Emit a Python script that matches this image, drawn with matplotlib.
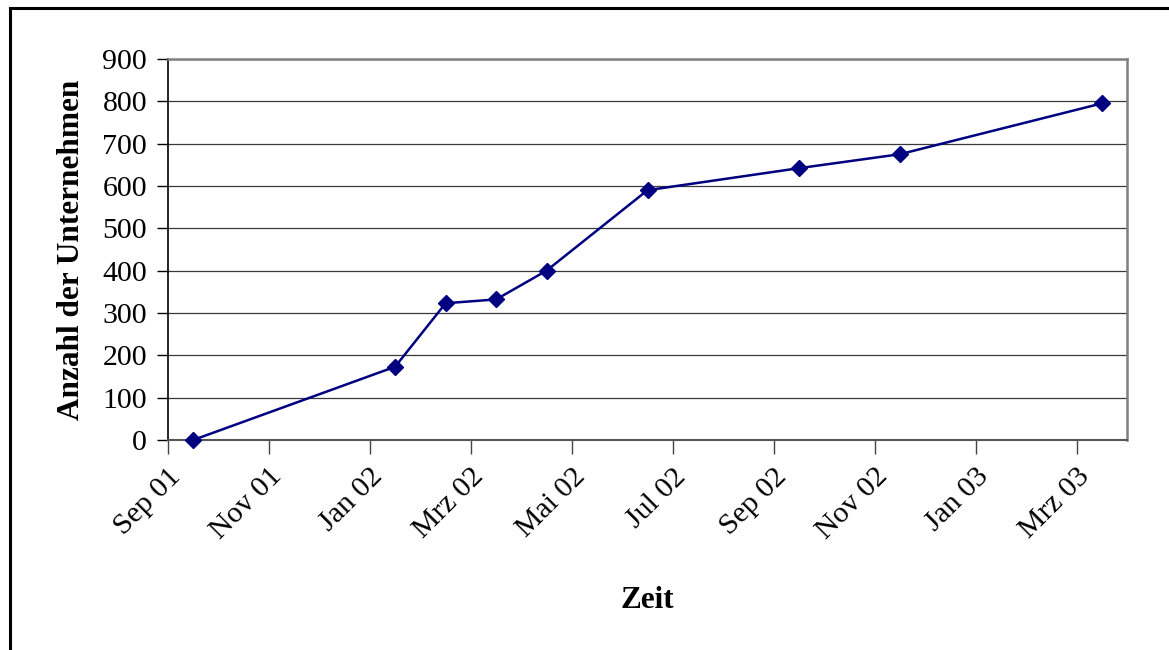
import numpy as np
import matplotlib.pyplot as plt
from matplotlib.patches import Rectangle

# data: month of observation (year, month) and number of companies
months = [(2001, 9), (2002, 1), (2002, 2), (2002, 3), (2002, 4),
          (2002, 6), (2002, 9), (2002, 11), (2003, 3)]
companies = [0, 173, 323, 332, 400, 590, 642, 675, 795]

tick_labels = ['Sep 01', 'Nov 01', 'Jan 02', 'Mrz 02', 'Mai 02',
               'Jul 02', 'Sep 02', 'Nov 02', 'Jan 03', 'Mrz 03']

plt.rcParams['font.family'] = ['Liberation Serif', 'DejaVu Serif']

# month index counted from Sep 2001, points sit in the middle of their month
start_year, start_month = 2001, 9
x = np.array([(y - start_year) * 12 + (m - start_month) for y, m in months]) + 0.5

fig = plt.figure(figsize=(11.69, 6.5), dpi=100)
ax = fig.add_axes([0.1437, 0.3231, 0.8204, 0.5862])

# outer frame (only left and top edge visible in the picture)
fig.patches.append(Rectangle((10 / 1169, -0.1), 1.2, 1.1 - 8 / 650, transform=fig.transFigure,
                             fill=False, edgecolor='black', linewidth=2.2, zorder=0))

for yv in range(100, 901, 100):
    ax.axhline(yv, color='#3a3a3a', linewidth=0.9, zorder=1)

ax.plot(x, companies, color='#000080', linewidth=1.8, marker='D', markersize=8,
        markerfacecolor='#000080', markeredgecolor='#000080', zorder=3, clip_on=False)

ax.set_xlim(0, 19)
ax.set_ylim(0, 900)
ax.set_xticks(np.arange(0, 19, 2))
ax.set_xticklabels(tick_labels, rotation=45, ha='right', rotation_mode='anchor', fontsize=21.5)
ax.set_yticks(np.arange(0, 901, 100))
ax.tick_params(axis='y', labelsize=21.5, length=8, width=1, direction='out', pad=7)
ax.tick_params(axis='x', length=10, width=1, direction='out', pad=7, color='#444444')

for side in ['top', 'right']:
    ax.spines[side].set_color('#808080')
    ax.spines[side].set_linewidth(1.8)
ax.spines['bottom'].set_color('#555555')
ax.spines['bottom'].set_linewidth(1.5)
ax.spines['left'].set_color('black')
ax.spines['left'].set_linewidth(1.2)

ax.set_ylabel('Anzahl der Unternehmen', fontsize=22.5, fontweight='bold', labelpad=12)
ax.set_xlabel('Zeit', fontsize=22.5, fontweight='bold', labelpad=30)

fig.savefig('out.png', dpi=100)
